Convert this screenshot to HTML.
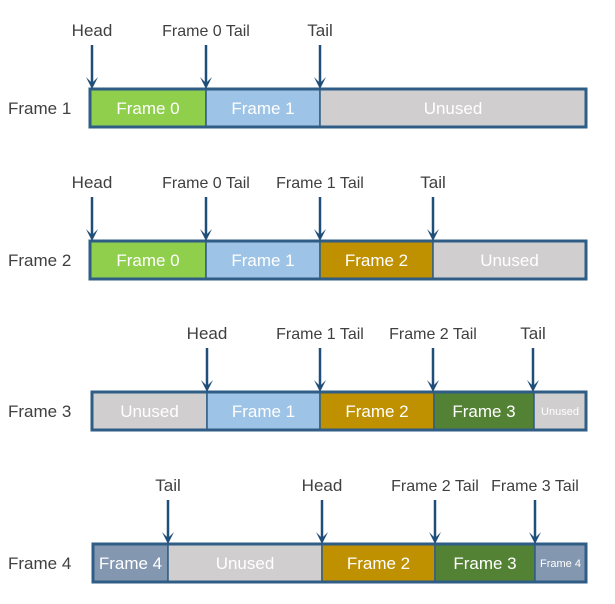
<!DOCTYPE html>
<html><head><meta charset="utf-8">
<style>
html,body{margin:0;padding:0;background:#fff;}
svg{display:block;}
text{font-family:"Liberation Sans",sans-serif;}
</style></head>
<body>
<svg id="d" width="615" height="604" viewBox="0 0 615 604"></svg>
<script>
const rowLabels=["Frame 1","Frame 2","Frame 3","Frame 4"];
const rowTops=[89,241,392,544];
const segStarts=[[90,206,320],[90,206,320,433],[92,207,320,434,534],[93,168,322,435,535]];
const segEnds=[[206,320,586],[206,320,433,586],[207,320,434,534,586],[168,322,435,535,586]];
const segLabels=[["Frame 0","Frame 1","Unused"],["Frame 0","Frame 1","Frame 2","Unused"],["Unused","Frame 1","Frame 2","Frame 3","Unused"],["Frame 4","Unused","Frame 2","Frame 3","Frame 4"]];
const segKinds=[["f0","f1","u"],["f0","f1","f2","u"],["u","f1","f2","f3","u"],["f4","u","f2","f3","f4"]];
const ptrX=[[92,206,320],[92,206,320,433],[207,320,433,533],[168,322,435,535]];
const ptrLabels=[["Head","Frame 0 Tail","Tail"],["Head","Frame 0 Tail","Frame 1 Tail","Tail"],["Head","Frame 1 Tail","Frame 2 Tail","Tail"],["Tail","Head","Frame 2 Tail","Frame 3 Tail"]];
const colors={f0:"#8fcf4c",f1:"#9dc3e6",f2:"#bf9000",f3:"#548235",f4:"#8497b0",u:"#d0cece"};
const NS="http://www.w3.org/2000/svg";
const svg=document.getElementById('d');
function mk(t,a){const e=document.createElementNS(NS,t);for(const k in a)e.setAttribute(k,a[k]);return e;}
const H=38;
rowLabels.forEach((lab,r)=>{
  const top=rowTops[r];
  const g=mk('g',{});
  
  
  svg.appendChild(g);
  const rl=mk('text',{x:8,y:top+H/2+6,'font-size':17,fill:'#404040'});
  rl.textContent=lab;
  
  
  g.appendChild(rl);
  segStarts[r].forEach((s,i)=>{
    const e=segEnds[r][i];
    const rect=mk('rect',{x:s,y:top,width:e-s,height:H,fill:colors[segKinds[r][i]],stroke:'#2f5d86','stroke-width':1.5});
    
    
    g.appendChild(rect);
    const w=e-s;
    const small=w<60;
    const t=mk('text',{x:(s+e)/2,y:top+H/2+(small?4:6),'font-size':small?11:17,fill:'#fff','text-anchor':'middle'});
    t.textContent=segLabels[r][i];
    
    
    g.appendChild(t);
  });
  const x0=segStarts[r][0], x1=segEnds[r][segEnds[r].length-1];
  const outline=mk('rect',{x:x0,y:top,width:x1-x0,height:H,fill:'none',stroke:'#2f5d86','stroke-width':3});
  
  
  g.appendChild(outline);
  ptrX[r].forEach((px,i)=>{
    const ln=mk('line',{x1:px,y1:top-44,x2:px,y2:top-6,stroke:'#1f4e79','stroke-width':2.5});
    
    
    g.appendChild(ln);
    const hd=mk('path',{d:`M${px-6},${top-12} L${px},${top} L${px+6},${top-12} L${px},${top-6} Z`,fill:'#1f4e79'});
    
    
    g.appendChild(hd);
    const lab2=ptrLabels[r][i];
    const t=mk('text',{x:px,y:top-53,'font-size':lab2.length>5?16:17,fill:'#404040','text-anchor':'middle'});
    t.textContent=lab2;
    
    
    g.appendChild(t);
  });
});
</script>
</body></html>
